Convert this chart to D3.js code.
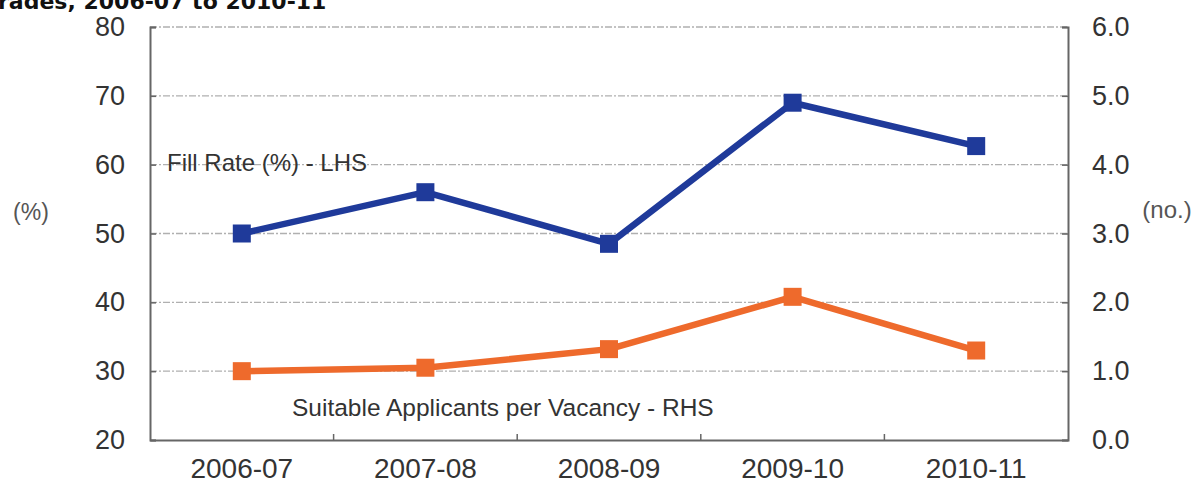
<!DOCTYPE html>
<html>
<head>
<meta charset="utf-8">
<script src="https://cdn.jsdelivr.net/npm/d3@7"></script>
<style>
  html, body { margin: 0; padding: 0; background: #fff; }
  svg { display: block; }
</style>
</head>
<body>
<svg id="chart" width="1201" height="487"></svg>
<script>
// Financial years on the x axis
const categories = ["2006-07", "2007-08", "2008-09", "2009-10", "2010-11"];
// Fill rate (%), left-hand scale
const fillRate = [50, 56, 48.5, 69, 62.7];
// Suitable applicants per vacancy (no.), right-hand scale
const applicants = [1.0, 1.05, 1.32, 2.08, 1.3];
// Tick values for the two vertical axes
const leftTicks = [20, 30, 40, 50, 60, 70, 80];
const rightTicks = [0, 1, 2, 3, 4, 5, 6];

const svg = d3.select("#chart");
const plotLeft = 150, plotRight = 1068, plotTop = 27, plotBottom = 440;
const font = "'Liberation Sans', Arial, sans-serif";

const x = d3.scaleBand().domain(categories).range([plotLeft, plotRight]);
const yL = d3.scaleLinear().domain([20, 80]).range([plotBottom, plotTop]);
const yR = d3.scaleLinear().domain([0, 6]).range([plotBottom, plotTop]);

// Title line, cropped at the top edge
svg.append("text")
  .attr("x", -2).attr("y", 9)
  .attr("font-family", "'DejaVu Sans', Verdana, sans-serif")
  .attr("font-weight", "bold")
  .attr("font-size", 22)
  .attr("fill", "#111")
  .text("rades, 2006-07 to 2010-11");

// Dashed horizontal gridlines
svg.append("g").selectAll("line")
  .data(leftTicks.slice(1))
  .join("line")
  .attr("x1", plotLeft).attr("x2", plotRight)
  .attr("y1", d => yL(d)).attr("y2", d => yL(d))
  .attr("stroke", "#b0b0b0")
  .attr("stroke-width", 1.3)
  .attr("stroke-dasharray", "7,2,2,2");

// Left axis
const axL = svg.append("g")
  .attr("transform", `translate(${plotLeft},0)`)
  .call(d3.axisLeft(yL).tickValues(leftTicks).tickSize(-6).tickPadding(25).tickFormat(d3.format("d")));
// Right axis
const axR = svg.append("g")
  .attr("transform", `translate(${plotRight},0)`)
  .call(d3.axisRight(yR).tickValues(rightTicks).tickSize(-6).tickPadding(24).tickFormat(d3.format(".1f")));
// Bottom axis, ticks placed between categories
const axB = svg.append("g")
  .attr("transform", `translate(0,${plotBottom})`)
  .call(d3.axisBottom(x).tickSize(0).tickPadding(18));
const sepTicks = categories.slice(1).map(c => x(c));
svg.append("g").selectAll("line")
  .data(sepTicks)
  .join("line")
  .attr("x1", d => d).attr("x2", d => d)
  .attr("y1", plotBottom).attr("y2", plotBottom - 6)
  .attr("stroke", "#666").attr("stroke-width", 1.5);

[axL, axR, axB].forEach(g => {
  g.select(".domain").attr("stroke", "#666").attr("stroke-width", 2);
  g.selectAll(".tick line").attr("stroke", "#666").attr("stroke-width", 1.5);
  g.selectAll("text")
    .attr("font-family", font)
    .attr("font-size", 27)
    .attr("fill", "#333");
});
axB.selectAll("text").attr("font-size", 28).attr("dy", "0.71em");

// Axis unit labels
svg.append("text")
  .attr("x", 31).attr("y", 220)
  .attr("text-anchor", "middle")
  .attr("font-family", font).attr("font-size", 23).attr("fill", "#555")
  .text("(%)");
svg.append("text")
  .attr("x", 1167).attr("y", 218)
  .attr("text-anchor", "middle")
  .attr("font-family", font).attr("font-size", 24).attr("fill", "#555")
  .text("(no.)");

// Series lines with square markers
const cx = d => x(d) + x.bandwidth() / 2;
function drawSeries(values, yScale, color) {
  const pts = categories.map((c, i) => [cx(c), yScale(values[i])]);
  svg.append("path")
    .datum(pts)
    .attr("d", d3.line())
    .attr("fill", "none")
    .attr("stroke", color)
    .attr("stroke-width", 6.5)
    .attr("stroke-linejoin", "round");
  const s = 18;
  svg.append("g").selectAll("rect")
    .data(pts)
    .join("rect")
    .attr("x", d => d[0] - s / 2).attr("y", d => d[1] - s / 2)
    .attr("width", s).attr("height", s)
    .attr("fill", color);
}
drawSeries(fillRate, yL, "#1f3a9a");
drawSeries(applicants, yR, "#ee6a2c");

// Series labels
svg.append("text")
  .attr("x", 167).attr("y", 171)
  .attr("font-family", font).attr("font-size", 24).attr("fill", "#333")
  .text("Fill Rate (%) - LHS");
svg.append("text")
  .attr("x", 292).attr("y", 416)
  .attr("font-family", font).attr("font-size", 24.5).attr("fill", "#333")
  .text("Suitable Applicants per Vacancy - RHS");
</script>
</body>
</html>
